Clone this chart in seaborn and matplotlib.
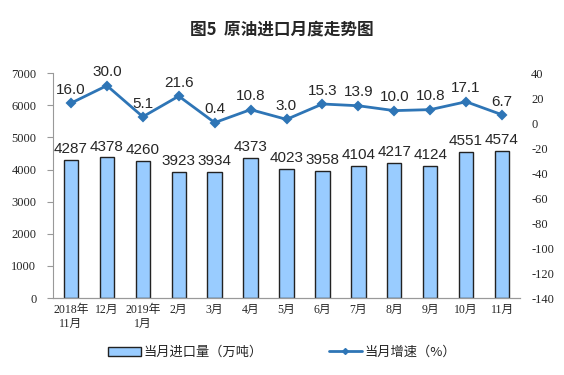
import pandas as pd
import numpy as np
import seaborn as sns
import matplotlib.pyplot as plt
from matplotlib.patches import Patch
from matplotlib.lines import Line2D

# ========= data =========
months = ["2018年\n11月", "12月", "2019年\n1月", "2月", "3月", "4月", "5月",
          "6月", "7月", "8月", "9月", "10月", "11月"]
volume = [4287, 4378, 4260, 3923, 3934, 4373, 4023, 3958, 4104, 4217, 4124, 4551, 4574]
growth = [16.0, 30.0, 5.1, 21.6, 0.4, 10.8, 3.0, 15.3, 13.9, 10.0, 10.8, 17.1, 6.7]

df = pd.DataFrame({"month": months, "volume": volume, "growth": growth})

sns.set_style("white")
plt.rcParams['font.family'] = ['Liberation Serif', 'Noto Sans CJK SC']
plt.rcParams['axes.unicode_minus'] = False

fig = plt.figure(figsize=(5.64, 3.75), dpi=100)
ax = fig.add_axes([0.094, 0.205, 0.828, 0.6])

# ======== bars: monthly import volume ========
sns.barplot(ax=ax, x="month", y="volume", data=df, color="#99ccff",
            edgecolor="#222222", linewidth=1, width=0.4, saturation=1)
ax.set_ylim(0, 7000)
ax.set_yticks(range(0, 7001, 1000))
ax.set_xlim(-0.5, len(months) - 0.5)
ax.set_xlabel("")
ax.set_ylabel("")
for i, v in enumerate(volume):
    ax.text(i, v + 120, str(v), ha="center", va="bottom", fontsize=11,
            family=['Liberation Sans', 'Noto Sans CJK SC'])

# ======== line: growth rate on right axis ========
ax2 = ax.twinx()
sns.pointplot(ax=ax2, x="month", y="growth", data=df, color="#2e75b6",
              markers="D", markersize=4, linewidth=2)
ax2.set_ylim(-140, 40)
ax2.set_yticks(range(-140, 41, 20))
ax2.set_xlim(-0.5, len(months) - 0.5)
ax2.set_ylabel("")
ax2.set_xlabel("")
for i, g in enumerate(growth):
    ax2.text(i, g + 5, f"{g:.1f}", ha="center", va="bottom", fontsize=11,
             family=['Liberation Sans', 'Noto Sans CJK SC'])

# ======== axis styling ========
for a in (ax, ax2):
    a.spines["top"].set_visible(False)
    a.spines["right"].set_visible(False)
    a.spines["left"].set_visible(False)
    a.spines["bottom"].set_color("#999999")
ax.spines["left"].set_visible(True)
ax.spines["left"].set_color("#999999")
ax.tick_params(axis="y", length=4, color="#999999", labelsize=9, pad=8,
               labelfontfamily='Liberation Serif')
ax2.tick_params(axis="y", length=0, labelsize=9, pad=8,
                labelfontfamily='Liberation Serif')
ax.tick_params(axis="x", length=0, labelsize=8.5, pad=4)
ax.set_xticks(np.arange(len(months)))
ax.set_xticklabels(months, family=['Liberation Serif', 'Noto Sans CJK SC'])
ax.set_xticks(np.arange(len(months)) - 0.5, minor=True)
ax.tick_params(axis="x", which="minor", length=3, color="#999999")
ax2.grid(False)
ax.grid(False)

fig.suptitle("图5  原油进口月度走势图", y=0.945, fontsize=12, fontweight="bold",
             family=['Noto Sans CJK SC'])

# ======== legend ========
handles = [Patch(facecolor="#99ccff", edgecolor="#222222", linewidth=1),
           Line2D([0], [0], color="#2e75b6", lw=2, marker="D", markersize=3)]
fig.legend(handles, ["当月进口量（万吨）", "当月增速（%）"], loc="center",
           bbox_to_anchor=(0.5, 0.06), ncol=2, frameon=False,
           columnspacing=5, handlelength=2.5, handletextpad=0.2,
           prop={'family': ['Noto Sans CJK SC'], 'size': 9.5})

fig.savefig("out.png", dpi=100)
